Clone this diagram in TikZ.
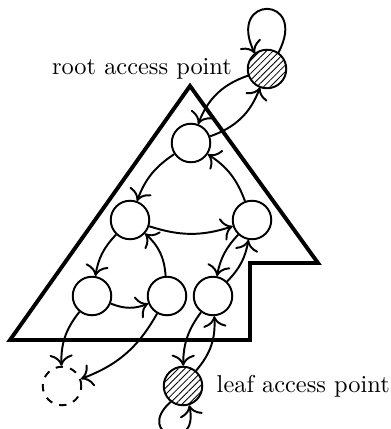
\documentclass[tikz,border=0pt]{standalone}
\usetikzlibrary{patterns.meta,positioning,arrows.meta}
\begin{document}
\begin{tikzpicture}[x=0.41pt,y=0.41pt,
  >={To[scale=1.35]},
  peer/.style={circle,draw,thick,minimum size=15.8pt,inner sep=0pt},
  ap/.style={peer,pattern={Lines[angle=45,distance=1.9pt,line width=0.35pt]}},
  ghost/.style={peer,dashed},
  link/.style={->,thick},
  region/.style={draw,ultra thick,line join=miter}
]
\useasboundingbox (0,0) rectangle (390,-429);

% overlay region
\draw[region] (190,-86) -- (10,-340) -- (250,-340) -- (250,-263) -- (318,-263) -- cycle;

% peers
\node[ap]    (root)  at (267,-69)  {};
\node[peer]  (a)     at (191,-143) {};
\node[peer]  (b)     at (130,-220) {};
\node[peer]  (c)     at (252,-220) {};
\node[peer]  (d)     at (92,-296)  {};
\node[peer]  (e)     at (167,-296) {};
\node[peer]  (f)     at (213,-296) {};
\node[ghost] (gone)  at (62,-386)  {};
\node[ap]    (leaf)  at (183,-386) {};

% labels
\node[left=2.8pt of root] (rootlabel) {root access point};
\node[right=2pt of leaf]  (leaflabel) {leaf access point};

% links
\draw[link] (root) to[bend right=25] (a);
\draw[link] (a) to[bend right=25] (root);
\draw[link] (a) to[bend right=18] (b);
\draw[link] (c) to[bend right=18] (a);
\draw[link] (b) to[bend right=18] (c);
\draw[link] (e) to[bend right=22] (b);
\draw[link] (b) to[bend right=17] (d);
\draw[link] (d) to[bend right=22] (e);
\draw[link] (d) to[bend right=20] (gone);
\draw[link] (e) to[bend left=20] (gone);
\draw[link] (c) to[bend right=16] (f);
\draw[link] (f) to[bend right=17] (c);
\draw[link] (f) to[bend right=18] (leaf);
\draw[link] (leaf) to[bend right=22] (f);

% self loops
\draw[link] (root.55) .. controls +(62:66) and +(116:66) .. (root.128);
\draw[link] (leaf.232) .. controls +(222:50) and +(282:50) .. (leaf.288);
\end{tikzpicture}
\end{document}
